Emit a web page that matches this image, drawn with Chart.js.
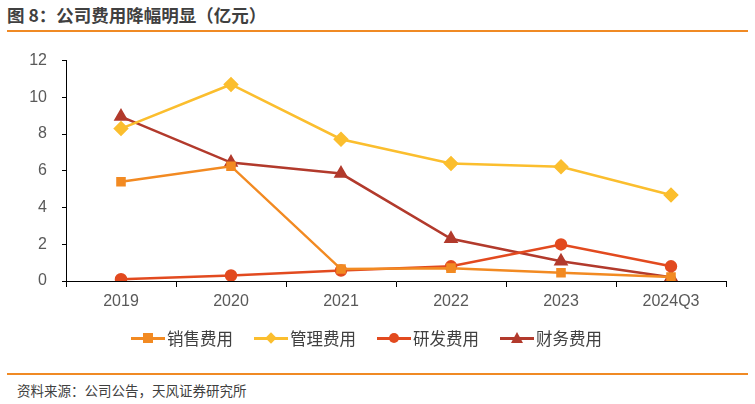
<!DOCTYPE html>
<html>
<head>
<meta charset="utf-8">
<script src="https://cdn.jsdelivr.net/npm/chart.js@4"></script>
<style>
  body { margin: 0; width: 755px; height: 404px; background: #fff; position: relative; overflow: hidden;
         font-family: "Noto Sans CJK SC", "Liberation Sans", sans-serif; }
  #title { position: absolute; left: 7px; top: 2px; font-size: 17.5px; font-weight: bold; color: #404040; }
  .rule { position: absolute; left: 7px; width: 741px; height: 2px; background: #F08A24; }
  #wrap { position: absolute; left: 0; top: 36px; width: 755px; height: 294px; }
  #legend { position: absolute; left: 131px; top: 326px; display: flex; gap: 21px;
            font-size: 16.5px; color: #404040; }
  .item { display: flex; align-items: center; }
  .mark { position: relative; width: 34px; height: 20px; margin-right: 2px; }
  .mark .ln { position: absolute; left: 0; right: 0; top: 9px; height: 2.5px; }
  .mark .pt { position: absolute; left: 12px; top: 5px; width: 10px; height: 10px; }
  #source { position: absolute; left: 17px; top: 380px; font-size: 13.5px; color: #404040; }
</style>
</head>
<body>
<div id="title">图 8：公司费用降幅明显（亿元）</div>
<div class="rule" style="top:30px"></div>
<div id="wrap"><canvas id="chart"></canvas></div>
<div id="legend"></div>
<div class="rule" style="top:373px"></div>
<div id="source">资料来源：公司公告，天风证券研究所</div>
<script>
const categories = ['2019', '2020', '2021', '2022', '2023', '2024Q3'];
const seriesNames = ['销售费用', '管理费用', '研发费用', '财务费用'];
const salesCost = [5.4, 6.25, 0.65, 0.7, 0.45, 0.22];
const adminCost = [8.3, 10.7, 7.72, 6.4, 6.22, 4.68];
const rndCost = [0.1, 0.3, 0.57, 0.8, 1.99, 0.8];
const financeCost = [8.95, 6.45, 5.85, 2.3, 1.07, 0.2];
const yTicks = [0, 2, 4, 6, 8, 10, 12];

const colors = ['#F28A22', '#FBBE2E', '#E24A1F', '#B23A2C'];
const pointStyles = ['rect', 'rectRot', 'circle', 'triangle'];
const radii = [5, 6, 5, 6];

const seriesData = [salesCost, adminCost, rndCost, financeCost];

// легенда: лінія з маркером
const legend = document.getElementById('legend');
seriesNames.forEach((name, i) => {
  let shape = '';
  if (i === 0) shape = `background:${colors[i]}`;
  if (i === 1) shape = `background:${colors[i]};transform:rotate(45deg) scale(0.8)`;
  if (i === 2) shape = `background:${colors[i]};border-radius:50%`;
  if (i === 3) shape = `width:0;height:0;background:none;left:11px;top:4px;border-left:6px solid transparent;border-right:6px solid transparent;border-bottom:11px solid ${colors[i]}`;
  legend.innerHTML += `<div class="item"><div class="mark"><div class="ln" style="background:${colors[i]}"></div><div class="pt" style="${shape}"></div></div>${name}</div>`;
});

const tickFont = { family: '"Liberation Sans", Arial, sans-serif', size: 16 };

new Chart(document.getElementById('chart'), {
  type: 'line',
  data: {
    labels: categories,
    datasets: seriesNames.map((name, i) => ({
      label: name,
      data: seriesData[i],
      borderColor: colors[i],
      backgroundColor: colors[i],
      borderWidth: 2.5,
      pointStyle: pointStyles[i],
      pointRadius: radii[i],
      pointHoverRadius: radii[i],
      tension: 0
    }))
  },
  options: {
    responsive: true,
    maintainAspectRatio: false,
    animation: false,
    layout: { autoPadding: false, padding: { left: 0, right: 29, top: 18, bottom: 0 } },
    plugins: { legend: { display: false }, tooltip: { enabled: false } },
    scales: {
      x: {
        offset: true,
        grid: { display: true, drawOnChartArea: false, drawTicks: true, tickLength: 6, color: '#000', offset: true },
        border: { color: '#000', width: 1 },
        ticks: { color: '#595959', font: tickFont, padding: 5, maxRotation: 0 },
        afterFit: s => { s.height = 49; }
      },
      y: {
        min: 0,
        max: 12,
        afterBuildTicks: s => { s.ticks = yTicks.map(v => ({ value: v })); },
        grid: { display: true, drawOnChartArea: false, drawTicks: true, tickLength: 4, color: '#000' },
        border: { color: '#000', width: 1 },
        ticks: { color: '#595959', font: tickFont, padding: 15 },
        afterFit: s => { s.width = 66; }
      }
    }
  }
});
</script>
</body>
</html>
